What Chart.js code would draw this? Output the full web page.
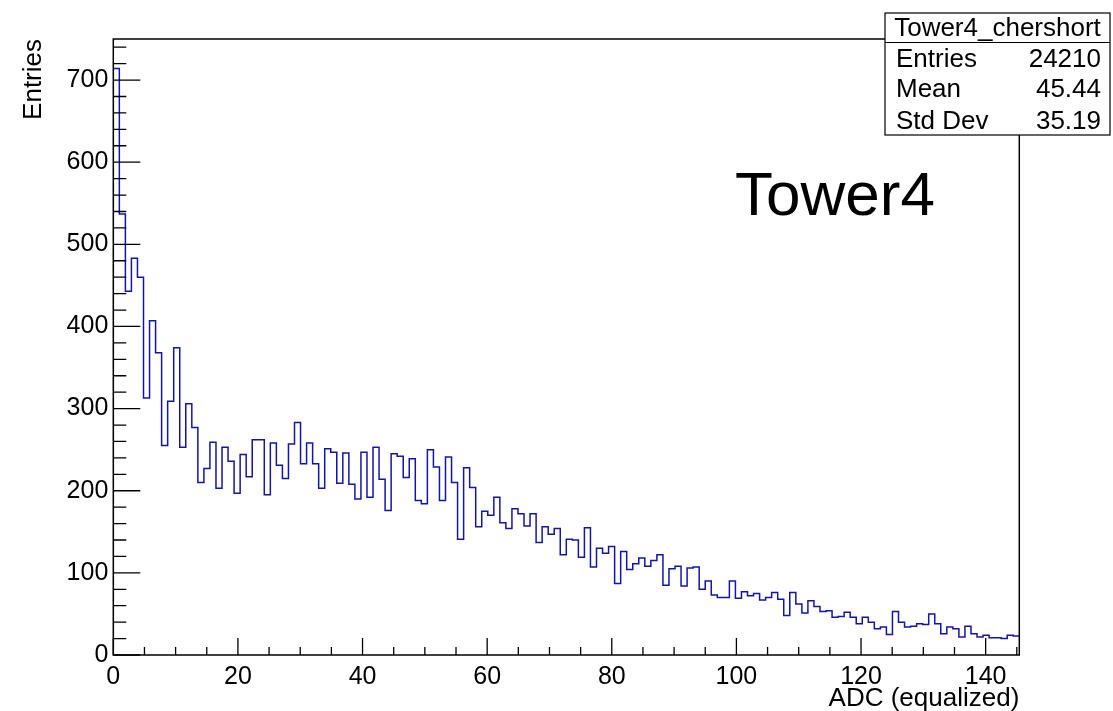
<!DOCTYPE html>
<html>
<head>
<meta charset="utf-8">
<title>Tower4_chershort</title>
<script src="https://cdn.jsdelivr.net/npm/chart.js@4/dist/chart.umd.min.js"></script>
<style>
  html, body { margin: 0; padding: 0; background: #fff; }
  #wrap { width: 1113px; height: 711px; }
</style>
</head>
<body>
<div id="wrap"><canvas id="histo" width="1113" height="711"></canvas></div>
<script>
// histogram contents (150 bins over 0 .. 145.4)
const xMin = 0;
const xMax = 145.4;
const nBins = 150;
const counts = [
  714, 537, 443, 483, 460, 313, 407, 368, 255, 309,
  374, 253, 306, 277, 210, 227, 259, 203, 253, 236,
  197, 244, 217, 262, 262, 195, 258, 231, 215, 257,
  283, 233, 258, 233, 203, 251, 247, 209, 246, 208,
  190, 247, 192, 253, 214, 176, 245, 242, 216, 239,
  188, 184, 250, 229, 188, 241, 210, 141, 228, 204,
  156, 175, 170, 192, 161, 154, 178, 172, 157, 172,
  137, 156, 147, 154, 122, 141, 140, 119, 155, 107,
  130, 124, 132, 87, 126, 104, 111, 118, 108, 115,
  122, 85, 105, 108, 84, 106, 107, 80, 90, 73,
  70, 70, 90, 69, 77, 72, 75, 67, 70, 76,
  68, 48, 76, 62, 51, 66, 59, 53, 54, 46,
  47, 52, 46, 38, 46, 40, 32, 34, 25, 53,
  40, 34, 35, 38, 37, 50, 38, 26, 34, 32,
  22, 35, 26, 22, 24, 21, 21, 20, 24, 23
];
const xTickLabels = [0, 20, 40, 60, 80, 100, 120, 140];
const yTickLabels = [0, 100, 200, 300, 400, 500, 600, 700];
const statsTitle = 'Tower4_chershort';
const statsNames = ['Entries', 'Mean', 'Std Dev'];
const statsValues = ['24210', '45.44', '35.19'];
const padLabel = 'Tower4';

const FONT = "'Liberation Sans', Arial, Helvetica, sans-serif";
const lineBlue = '#1414a8';

// step points at bin low edges, plus the closing edge
const binW = (xMax - xMin) / nBins;
const points = [{ x: xMin, y: 0 }];
counts.forEach((c, i) => points.push({ x: xMin + i * binW, y: c }));
points.push({ x: xMax, y: counts[counts.length - 1] });

// ROOT-like frame, inward ticks, stats box and label
const rootFrame = {
  id: 'rootFrame',
  afterDraw(chart) {
    const ctx = chart.ctx;
    const a = chart.chartArea;
    const xs = chart.scales.x;
    const ys = chart.scales.y;
    ctx.save();
    ctx.strokeStyle = '#000';
    ctx.lineWidth = 1.5;
    ctx.strokeRect(a.left, a.top, a.right - a.left, a.bottom - a.top);

    ctx.lineWidth = 1.3;
    ctx.beginPath();
    for (let v = 0; v <= xMax; v += 5) {
      const px = xs.getPixelForValue(v);
      const len = v % 20 === 0 ? 17 : 8;
      ctx.moveTo(px, a.bottom);
      ctx.lineTo(px, a.bottom - len);
    }
    for (let v = 0; v <= ys.max; v += 20) {
      const py = ys.getPixelForValue(v);
      const len = v % 100 === 0 ? 27 : 13;
      ctx.moveTo(a.left, py);
      ctx.lineTo(a.left + len, py);
    }
    ctx.stroke();

    // pad label
    ctx.fillStyle = '#000';
    ctx.font = '62px ' + FONT;
    ctx.textAlign = 'left';
    ctx.textBaseline = 'alphabetic';
    ctx.fillText(padLabel, 735, 215);

    // stats box
    const bx = 885, by = 13, bw = 225, bh = 122;
    ctx.fillStyle = '#fff';
    ctx.fillRect(bx, by, bw, bh);
    ctx.lineWidth = 1.2;
    ctx.strokeRect(bx, by, bw, bh);
    ctx.beginPath();
    ctx.moveTo(bx, 42.5);
    ctx.lineTo(bx + bw, 42.5);
    ctx.stroke();
    ctx.fillStyle = '#000';
    ctx.font = '26px ' + FONT;
    ctx.textAlign = 'center';
    ctx.fillText(statsTitle, bx + bw / 2, 36);
    const rows = [67, 97, 129];
    statsNames.forEach((n, i) => {
      ctx.textAlign = 'left';
      ctx.fillText(n, 896, rows[i]);
      ctx.textAlign = 'right';
      ctx.fillText(statsValues[i], 1101, rows[i]);
    });
    ctx.restore();
  }
};

new Chart(document.getElementById('histo'), {
  type: 'line',
  data: {
    datasets: [{
      data: points,
      stepped: 'before',
      borderColor: lineBlue,
      borderWidth: 1.5,
      pointRadius: 0,
      fill: false
    }]
  },
  options: {
    responsive: false,
    animation: false,
    layout: { padding: { top: 39, right: 93.7, left: 0, bottom: 0 } },
    plugins: { legend: { display: false }, tooltip: { enabled: false } },
    scales: {
      x: {
        type: 'linear',
        min: xMin,
        max: xMax,
        afterFit(s) { s.height = 56; },
        afterBuildTicks(s) { s.ticks = xTickLabels.map(v => ({ value: v })); },
        grid: { display: false, drawTicks: false },
        border: { display: false },
        ticks: {
          includeBounds: false,
          autoSkip: false,
          maxRotation: 0,
          padding: 7,
          color: '#000',
          font: { family: FONT, size: 25 }
        },
        title: {
          display: true,
          text: 'ADC (equalized)',
          align: 'end',
          color: '#000',
          padding: { top: 0, bottom: -3 },
          font: { family: FONT, size: 26 }
        }
      },
      y: {
        min: 0,
        max: 750,
        afterFit(s) { s.width = 113.3; },
        afterBuildTicks(s) { s.ticks = yTickLabels.map(v => ({ value: v })); },
        grid: { display: false, drawTicks: false },
        border: { display: false },
        ticks: {
          autoSkip: false,
          padding: 5,
          color: '#000',
          font: { family: FONT, size: 25 }
        },
        title: {
          display: true,
          text: 'Entries',
          align: 'end',
          color: '#000',
          padding: { top: 18, bottom: 0 },
          font: { family: FONT, size: 26 }
        }
      }
    }
  },
  plugins: [rootFrame]
});
</script>
</body>
</html>
